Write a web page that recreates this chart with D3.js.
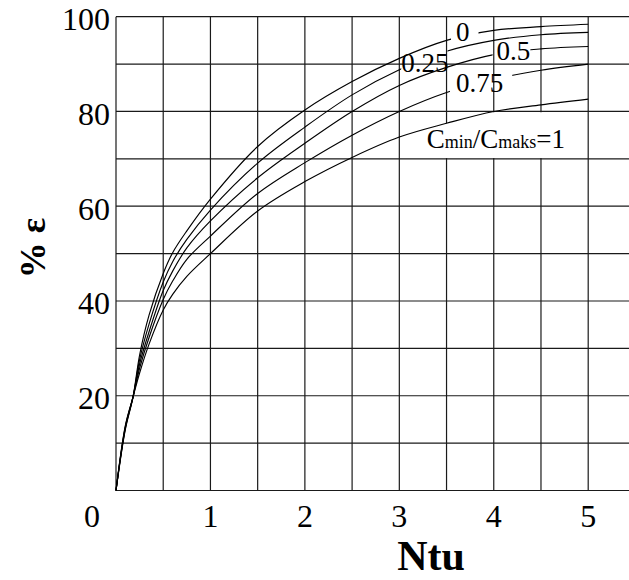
<!DOCTYPE html>
<html><head><meta charset="utf-8">
<script src="https://cdn.jsdelivr.net/npm/d3@7"></script>
<style>body{margin:0;background:#fff} svg{display:block}</style>
</head><body>
<svg id="chart" width="629" height="580"></svg>
<script>
// ---- data ----
const ntu      = [0, 0.1, 0.18, 0.25, 0.35, 0.5, 0.6, 0.75, 1, 1.5, 2, 2.5, 3, 3.5, 4, 4.5, 5];
const effC0    = [0, 13.0, 19.7, 28.6, 37.0, 45.8, 50.2, 54.8, 61.5, 72.6, 80.3, 86.3, 91.2, 95.0, 97.1, 97.9, 98.4];
const effC025  = [0, 13.2, 19.7, 27.6, 35.1, 44.0, 48.3, 53.0, 59.2, 69.1, 76.7, 83.5, 88.8, 92.7, 95.0, 96.2, 96.7];
const effC05   = [0, 13.4, 19.7, 26.7, 33.5, 42.2, 46.3, 51.2, 56.9, 66.0, 73.3, 80.0, 85.5, 89.3, 92.0, 93.2, 93.7];
const effC075  = [0, 13.6, 19.7, 25.8, 32.3, 40.3, 44.2, 48.8, 53.7, 62.7, 69.2, 75.0, 80.0, 84.0, 86.8, 88.7, 90.0];
const effC1    = [0, 13.8, 19.7, 24.8, 30.9, 38.1, 41.4, 45.2, 50.0, 59.0, 65.2, 70.3, 74.6, 77.5, 80.0, 81.4, 82.6];
const ratioLabels = ["0", "0.25", "0.5", "0.75", "1"];
const xTickValues = [1, 2, 3, 4, 5];
const yTickValues = [20, 40, 60, 80, 100];
const xLabel = "Ntu";
const yLabel = "% ε";

const seriesList = [effC0, effC025, effC05, effC075, effC1];

// ---- layout ----
const W = 629, H = 580;
const serif = "'Liberation Serif','Times New Roman',Times,serif";
const svg = d3.select("#chart");
const x = d3.scaleLinear().domain([0, 5]).range([116, 588.2]);
const y = d3.scaleLinear().domain([0, 100]).range([490.5, 16.7]);

// grid
const g = svg.append("g").attr("stroke", "#1a1a1a").attr("stroke-width", 1.2);
d3.range(0, 5.001, 0.5).forEach(v => {
  g.append("line").attr("x1", x(v)).attr("x2", x(v)).attr("y1", y(0)).attr("y2", y(100));
});
d3.range(0, 100.001, 10).forEach(v => {
  g.append("line").attr("x1", x(0)).attr("x2", W).attr("y1", y(v)).attr("y2", y(v));
});

const curve = d3.curveCatmullRom.alpha(0.5);
const line = d3.line().x(d => x(d[0])).y(d => y(d[1])).curve(curve);
const pts = s => ntu.map((n, i) => [n, s[i]]);

// white knockout behind the C=1 label (below the C=1 curve)
const defs = svg.append("defs");
defs.append("clipPath").attr("id", "koClip").append("rect")
  .attr("x", 420).attr("width", 152)
  .attr("y", y(80) + 0.9).attr("height", y(70) - y(80) - 1.8);
svg.append("path")
  .attr("d", d3.area().x(d => x(d[0])).y0(y(70)).y1(d => y(d[1])).curve(curve)(pts(effC1)))
  .attr("fill", "#fff").attr("clip-path", "url(#koClip)");

// curve labels
const annots = [
  {t: ratioLabels[0], n: 3.60, e: 94.9, padL: 5, padR: 9},
  {t: ratioLabels[1], n: 3.02, e: 88.4, padL: 0, padR: -1},
  {t: ratioLabels[2], n: 4.03, e: 90.9, padL: 4, padR: 0},
  {t: ratioLabels[3], n: 3.60, e: 84.1, padL: 6, padR: 9}
];
const labG = svg.append("g").attr("font-family", serif).attr("font-size", 27).attr("fill", "#000");
const labNodes = annots.map(a => labG.append("text").attr("x", x(a.n)).attr("y", y(a.e)).text(a.t));

// curves with gaps at their labels
seriesList.forEach((s, i) => {
  const p = svg.append("path").attr("d", line(pts(s)))
    .attr("fill", "none").attr("stroke", "#000").attr("stroke-width", 1.15);
  if (i < annots.length) {
    const bb = labNodes[i].node().getBBox();
    const m = defs.append("mask").attr("id", "m" + i).attr("maskUnits", "userSpaceOnUse")
      .attr("x", 0).attr("y", 0).attr("width", W).attr("height", H);
    m.append("rect").attr("width", W).attr("height", H).attr("fill", "#fff");
    m.append("rect").attr("x", bb.x - annots[i].padL).attr("y", bb.y + 2)
      .attr("width", bb.width + annots[i].padL + annots[i].padR).attr("height", bb.height - 4)
      .attr("fill", "#000");
    p.attr("mask", `url(#m${i})`);
  }
});
labG.raise();

// C=1 label
const cl = svg.append("text").attr("font-family", serif).attr("fill", "#000")
  .attr("x", x(3.29)).attr("y", y(72.2)).attr("font-size", 27);
cl.append("tspan").text("C");
cl.append("tspan").attr("font-size", 18).text("min");
cl.append("tspan").text("/C");
cl.append("tspan").attr("font-size", 18).text("maks");
cl.append("tspan").text("=" + ratioLabels[4]);

// tick labels
const tg = svg.append("g").attr("font-family", serif).attr("font-size", 32).attr("fill", "#000");
yTickValues.forEach(v => {
  tg.append("text").attr("x", x(0) - 6).attr("y", y(v)).attr("dy", "0.42em")
    .attr("text-anchor", "end").text(v);
});
xTickValues.forEach(v => {
  tg.append("text").attr("x", x(v)).attr("y", y(0) + 36).attr("text-anchor", "middle").text(v);
});
tg.append("text").attr("x", x(0) - 24).attr("y", y(0) + 36).attr("text-anchor", "middle").text(0);

// axis titles
svg.append("text").attr("font-family", serif).attr("font-weight", "bold").attr("font-size", 42)
  .attr("x", 431).attr("y", 570).attr("text-anchor", "middle").text(xLabel);
svg.append("text").attr("font-family", serif).attr("font-weight", "bold").attr("font-size", 36)
  .attr("transform", "translate(45,248) rotate(-90)").attr("text-anchor", "middle").text(yLabel);
</script>
</body></html>
